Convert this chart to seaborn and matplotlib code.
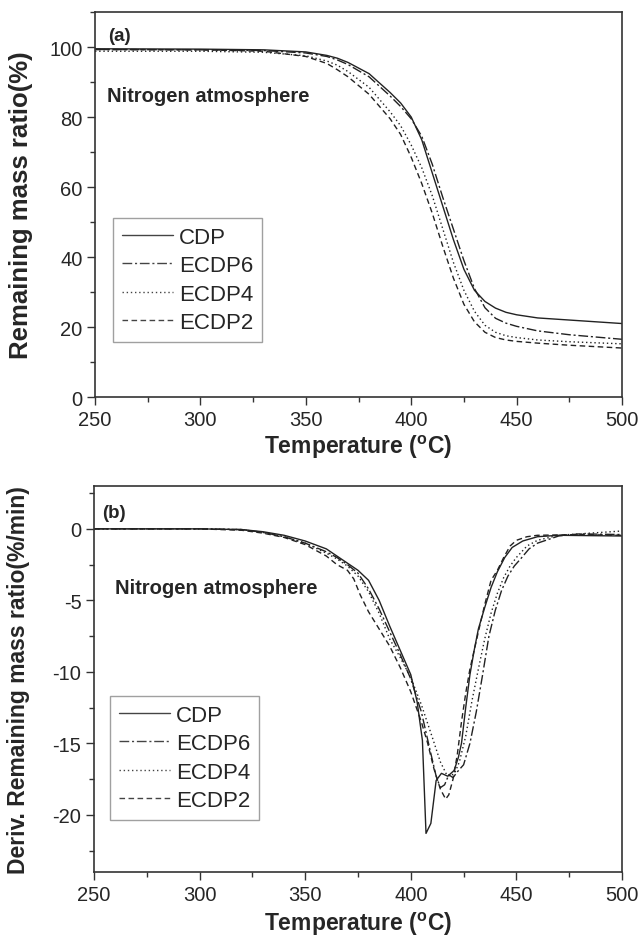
import numpy as np
import pandas as pd
import matplotlib
matplotlib.use("Agg")
import matplotlib.pyplot as plt
import seaborn as sns
from matplotlib.ticker import MultipleLocator

sns.set_style("ticks")
plt.rcParams['font.family'] = ['Liberation Sans', 'DejaVu Sans']
plt.rcParams['mathtext.fontset'] = 'custom'
plt.rcParams['mathtext.rm'] = 'Liberation Sans'
plt.rcParams['mathtext.bf'] = 'Liberation Sans:bold'
plt.rcParams['axes.unicode_minus'] = False

series_names = ["CDP", "ECDP6", "ECDP4", "ECDP2"]

# ---- (a) TGA data ----
tga_T = [250, 300, 330, 350, 360, 365, 370, 380, 390, 395, 400, 405, 410, 415, 420, 425, 430, 435, 440, 445, 450, 460, 475, 500]
tga_CDP = [99.5, 99.4, 99.2, 98.6, 97.6, 96.8, 95.6, 92.4, 87.0, 84.0, 80.0, 73.5, 64.0, 54.5, 45.0, 36.5, 30.5, 27.3, 25.4, 24.2, 23.5, 22.6, 22.0, 21.0]
tga_ECDP6 = [99.3, 99.2, 99.0, 98.3, 97.3, 96.3, 95.0, 91.5, 86.0, 83.0, 79.5, 74.5, 66.5, 57.0, 48.0, 39.0, 31.0, 25.5, 22.5, 21.1, 20.2, 18.9, 17.8, 16.5]
tga_ECDP4 = [98.8, 98.8, 98.5, 97.5, 96.0, 94.8, 93.0, 88.5, 81.5, 77.5, 72.0, 65.5, 57.5, 48.0, 38.5, 30.5, 24.5, 20.5, 18.5, 17.5, 17.0, 16.3, 15.8, 15.2]
tga_ECDP2 = [99.3, 99.2, 98.8, 97.3, 95.3, 93.5, 91.5, 86.5, 79.5, 75.0, 68.5, 61.0, 52.5, 43.0, 34.0, 26.5, 21.5, 18.5, 17.0, 16.3, 15.9, 15.4, 14.8, 14.0]

# ---- (b) DTG data ----
dtg_T_CDP = [250, 300, 320, 330, 340, 350, 360, 365, 370, 375, 380, 385, 390, 395, 400, 403, 405.5, 407.2, 409.5, 412, 414.5, 417.5, 420.5, 422.5, 424, 426, 428, 430, 432, 435, 438, 441, 444.5, 448, 453, 460, 470, 500]
dtg_CDP = [0, 0, -0.05, -0.2, -0.45, -0.85, -1.4, -1.9, -2.4, -2.9, -3.6, -5.0, -6.8, -8.5, -10.2, -12.1, -14.8, -21.3, -20.6, -17.6, -17.1, -17.3, -16.9, -16.0, -15.0, -12.5, -10.2, -8.5, -7.0, -5.5, -4.1, -3.0, -2.0, -1.3, -0.85, -0.55, -0.45, -0.5]

dtg_T_ECDP6 = [250, 300, 320, 330, 340, 350, 360, 365, 370, 375, 380, 385, 390, 395, 400, 405, 409, 412, 414, 416, 418, 420, 422, 425, 428, 431, 434, 437, 440, 443, 446, 449, 452, 456, 460, 470, 480, 500]
dtg_ECDP6 = [0, 0, -0.05, -0.25, -0.55, -1.0, -1.6, -2.0, -2.5, -3.1, -4.2, -5.6, -7.2, -8.8, -10.5, -12.8, -15.4, -17.3, -18.1, -17.9, -17.2, -17.4, -17.0, -16.5, -15.0, -12.8, -10.2, -7.5, -5.7, -4.3, -3.3, -2.6, -2.1, -1.4, -1.0, -0.5, -0.35, -0.4]

dtg_T_ECDP4 = [250, 300, 320, 330, 340, 350, 360, 365, 370, 375, 380, 385, 390, 395, 400, 405, 410, 414, 417, 419, 421, 423, 426, 429, 432, 435, 438, 441, 444, 447, 450, 455, 460, 470, 490, 500]
dtg_ECDP4 = [0, 0, -0.05, -0.25, -0.55, -1.0, -1.7, -2.1, -2.6, -3.3, -4.4, -5.9, -7.7, -9.0, -10.4, -12.3, -14.5, -16.3, -17.2, -17.3, -17.0, -16.3, -14.5, -12.0, -9.8, -7.7, -5.9, -4.5, -3.4, -2.6, -2.0, -1.2, -0.8, -0.45, -0.25, -0.15]

dtg_T_ECDP2 = [250, 300, 320, 330, 340, 350, 355, 360, 365, 370, 373, 376, 380, 385, 390, 395, 400, 405, 408, 411, 414, 416.5, 418, 420, 422, 424, 426, 428, 430, 432, 435, 438, 441, 444, 447, 450, 455, 460, 480, 500]
dtg_ECDP2 = [0, 0, -0.1, -0.3, -0.6, -1.1, -1.5, -1.9, -2.5, -2.9, -3.5, -4.6, -5.8, -7.0, -8.2, -9.7, -11.4, -13.5, -15.0, -16.8, -18.2, -18.9, -18.6, -17.5, -15.8, -13.5, -11.5, -9.8, -8.5, -7.2, -5.3, -3.6, -2.9, -2.0, -1.2, -0.8, -0.55, -0.45, -0.4, -0.45]

dash_patterns = {"CDP": None, "ECDP6": (7, 2, 1.5, 2), "ECDP4": (1, 2), "ECDP2": (4, 2.5)}
color = "#222222"

fig = plt.figure(figsize=(6.39, 9.37), dpi=100)
ax1 = fig.add_axes([0.1487, 0.5752, 0.8247, 0.4109])
ax2 = fig.add_axes([0.1471, 0.0683, 0.8263, 0.4120])

tga = {"CDP": tga_CDP, "ECDP6": tga_ECDP6, "ECDP4": tga_ECDP4, "ECDP2": tga_ECDP2}
dtg = {"CDP": (dtg_T_CDP, dtg_CDP), "ECDP6": (dtg_T_ECDP6, dtg_ECDP6),
       "ECDP4": (dtg_T_ECDP4, dtg_ECDP4), "ECDP2": (dtg_T_ECDP2, dtg_ECDP2)}

def draw(ax, name, T, v):
    df = pd.DataFrame({"T": T, "v": v})
    sns.lineplot(data=df, x="T", y="v", ax=ax, color=color, lw=1.0, label=name)
    l = ax.get_lines()[-1]
    if dash_patterns[name] is not None:
        l.set_dashes(dash_patterns[name])

for n in series_names:
    draw(ax1, n, tga_T, tga[n])
    draw(ax2, n, dtg[n][0], dtg[n][1])

def style_axes(ax, ylabel, ylsize, ylim, ymaj, ymin, ylx, xly):
    ax.set_xlim(250, 500)
    ax.set_ylim(*ylim)
    ax.xaxis.set_major_locator(MultipleLocator(50))
    ax.xaxis.set_minor_locator(MultipleLocator(25))
    ax.yaxis.set_major_locator(MultipleLocator(ymaj))
    ax.yaxis.set_minor_locator(MultipleLocator(ymin))
    ax.tick_params(axis='both', which='major', direction='out', length=5.5, width=1,
                   labelsize=14.5, color='#333333', top=False, right=False, pad=3.5)
    ax.tick_params(axis='both', which='minor', direction='out', length=3.5, width=1,
                   color='#333333', top=False, right=False)
    for s in ax.spines.values():
        s.set_visible(True)
        s.set_linewidth(1.2)
        s.set_color('#333333')
    ax.set_xlabel(r'Temperature ($\mathbf{^{o}}$C)', fontsize=16.5, fontweight='bold')
    ax.set_ylabel(ylabel, fontsize=ylsize, fontweight='bold')
    ax.yaxis.set_label_coords(ylx, 0.5)
    ax.xaxis.set_label_coords(0.5, xly)

style_axes(ax1, 'Remaining mass ratio(%)', 18.5, (0, 110), 20, 10, -0.118, -0.092)
style_axes(ax2, 'Deriv. Remaining mass ratio(%/min)', 16.5, (-24, 3), 5, 2.5, -0.121, -0.098)

ax1.text(256.0, 102.1, '(a)', fontsize=13.5, fontweight='bold', va='baseline')
ax1.text(255.5, 84.5, 'Nitrogen atmosphere', fontsize=14.5, fontweight='bold', va='baseline')
ax2.text(253.8, 0.86, '(b)', fontsize=13.5, fontweight='bold', va='baseline')
ax2.text(260.1, -4.46, 'Nitrogen atmosphere', fontsize=14.5, fontweight='bold', va='baseline')

for ax, anchor in [(ax1, (0.034, 0.465)), (ax2, (0.030, 0.456))]:
    leg = ax.legend(loc='upper left', bbox_to_anchor=anchor, fontsize=16, frameon=True,
                    fancybox=False, edgecolor='#888888', handlelength=2.3,
                    handletextpad=0.28, labelspacing=0.33, borderpad=0.4, borderaxespad=0)
    leg.get_frame().set_linewidth(1.0)
    for h in leg.get_lines():
        h.set_color('#444444')

fig.savefig("out.png", dpi=100)
